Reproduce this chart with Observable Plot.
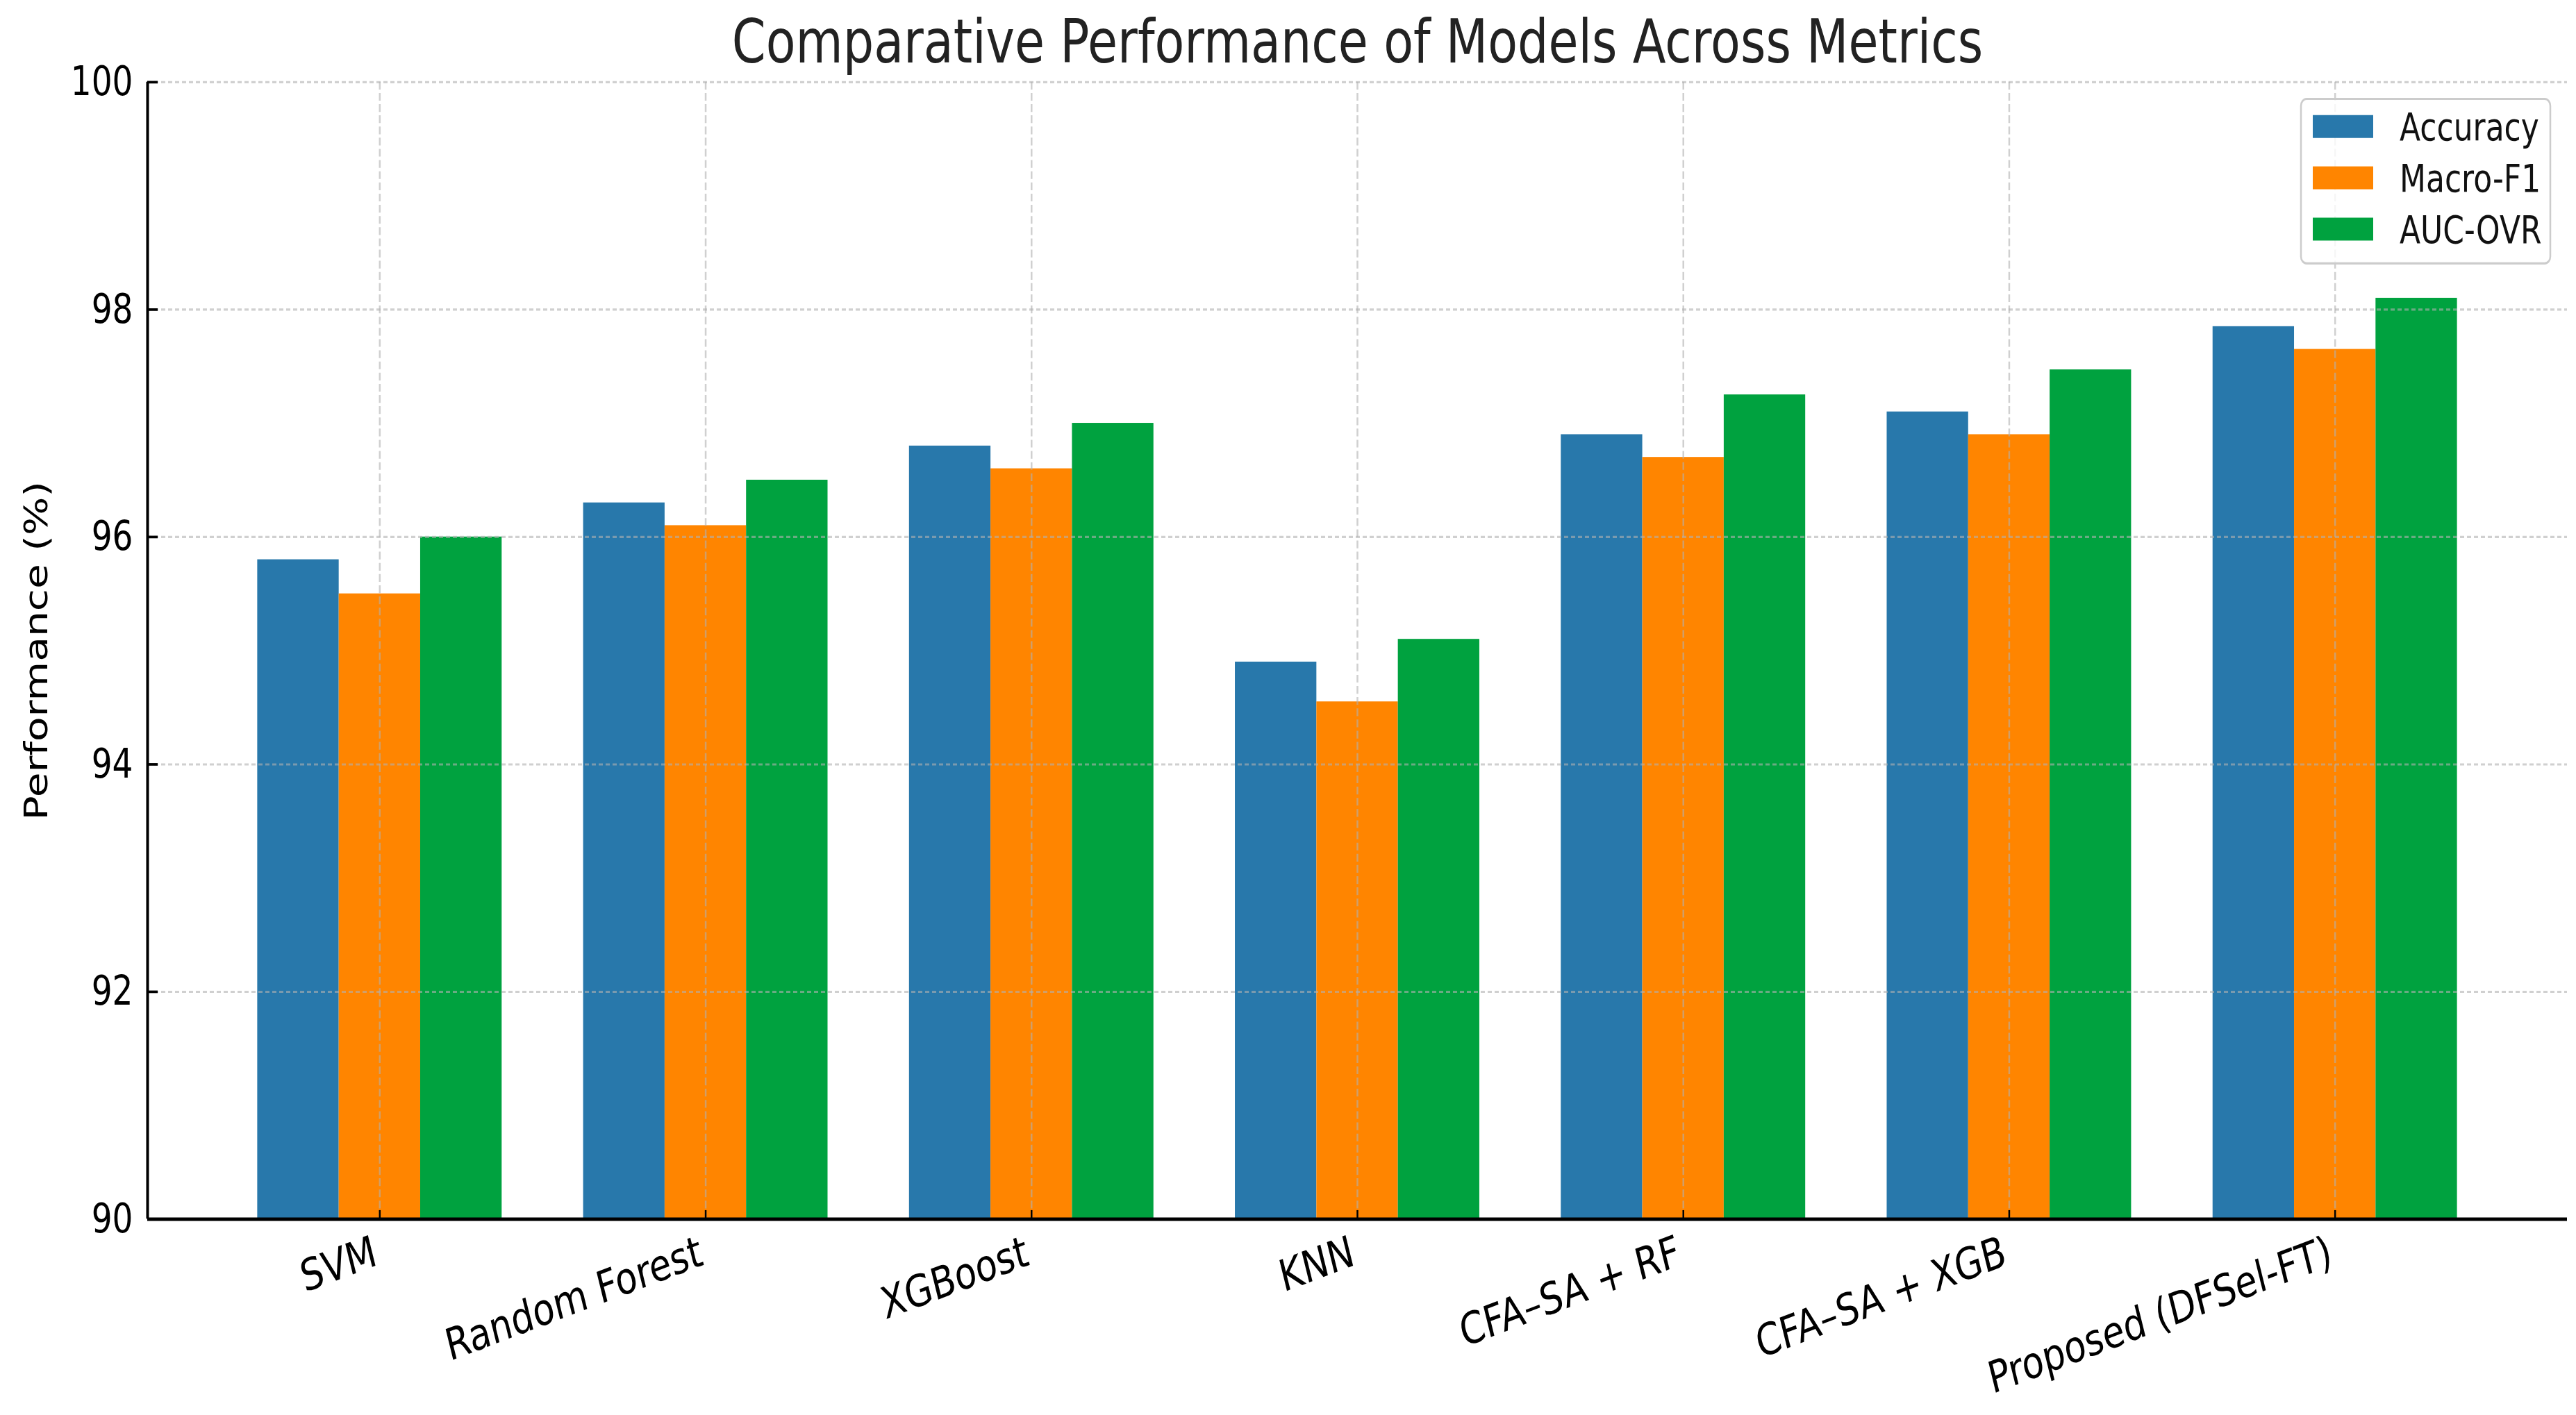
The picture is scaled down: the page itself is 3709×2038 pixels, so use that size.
<!DOCTYPE html>
<html><head><meta charset="utf-8">
<script src="https://cdn.jsdelivr.net/npm/d3@7"></script>
<script src="https://cdn.jsdelivr.net/npm/@observablehq/plot@0.6"></script>
<style>html,body{margin:0;padding:0;background:#fff;} #chart svg{display:block;}</style>
</head><body><div id="chart"></div>
<script>
const models = ["SVM", "Random Forest", "XGBoost", "KNN", "CFA\u2013SA + RF", "CFA\u2013SA + XGB", "Proposed (DFSel-FT)"];
const metrics = ["Accuracy", "Macro-F1", "AUC-OVR"];
const accuracy = [95.8, 96.3, 96.8, 94.9, 96.9, 97.1, 97.85];
const macroF1 = [95.5, 96.1, 96.6, 94.55, 96.7, 96.9, 97.65];
const aucOvr = [96.0, 96.5, 97.0, 95.1, 97.25, 97.47, 98.1];
const yTicks = [90, 92, 94, 96, 98, 100];
const colors = ["#2878ab", "#ff8500", "#00a23f"];
const title = "Comparative Performance of Models Across Metrics";
const yLabel = "Performance (%)";

const W = 3709, H_OUT = 2038, H = 1644; // internal height, stretched vertically to output
const mL = 212, mR = 13, mT = 95, mB = 228;
const barW = 0.25;
const xDomain = [-0.7125, 6.7125];
const series = [accuracy, macroF1, aucOvr];
const rows = [];
models.forEach((m, i) => metrics.forEach((k, j) => rows.push({model: m, i, metric: k, j, value: series[j][i]})));
const idx = models.map((m, i) => i);
const plotW = W - mL - mR, plotH = H - mT - mB;

const chart = Plot.plot({
  width: W, height: H, marginLeft: mL, marginRight: mR, marginTop: mT, marginBottom: mB,
  style: {fontFamily: "DejaVu Sans", fontSize: "47px", color: "#000", background: "#fff", overflow: "visible"},
  x: {type: "linear", domain: xDomain, axis: null},
  y: {domain: [90, 100], ticks: yTicks, tickSize: 0, tickPadding: 21, label: null, tickFormat: d => String(d)},
  color: {domain: metrics, range: colors},
  marks: [
    Plot.rectY(rows, {
      x1: d => d.i + (d.j - 1) * barW - barW / 2,
      x2: d => d.i + (d.j - 1) * barW + barW / 2,
      y1: 90, y2: "value", fill: "metric"
    }),
    Plot.ruleY(yTicks, {stroke: "#b0b0b0", strokeOpacity: 0.6, strokeWidth: 2.5, strokeDasharray: "6,4"}),
    Plot.ruleX(idx, {stroke: "#b0b0b0", strokeOpacity: 0.6, strokeWidth: 2.5, strokeDasharray: "9,4"}),
    Plot.tickY(yTicks, {stroke: "#000", strokeWidth: 3, insetRight: plotW - 15}),
    Plot.tickX(idx, {stroke: "#000", strokeWidth: 2.5, insetTop: plotH - 10}),
    Plot.ruleX([xDomain[0]], {stroke: "#000", strokeWidth: 4}),
    Plot.ruleY([90], {stroke: "#000", strokeWidth: 4}),
    Plot.text(models, {x: (d, i) => i, frameAnchor: "bottom", textAnchor: "end", lineAnchor: "top", rotate: -17, dy: 18, dx: -12, fontSize: 51, fill: "#000"}),
    Plot.text([yLabel], {frameAnchor: "left", textAnchor: "middle", lineAnchor: "middle", rotate: -90, dx: -160, fontSize: 47, fill: "#000"}),
    Plot.text([title], {frameAnchor: "top", textAnchor: "middle", lineAnchor: "middle", dy: -45, fontSize: 70, fill: "#222"})
  ]
});

// legend (upper right, inside frame)
const svg = d3.select(chart);
const lg = svg.append("g").attr("font-family", "DejaVu Sans").attr("text-anchor", "start");
const bw = 359, bh = 191;
const bx = W - mR - 24 - bw, by = mT + 20;
lg.append("rect").attr("x", bx).attr("y", by).attr("width", bw).attr("height", bh).attr("rx", 8)
  .attr("fill", "#fff").attr("fill-opacity", 0.8).attr("stroke", "#cccccc").attr("stroke-width", 2.5);
metrics.forEach((k, j) => {
  const cy = by + 32 + j * 59.6;
  lg.append("rect").attr("x", bx + 17).attr("y", cy - 13.3).attr("width", 87).attr("height", 26.6).attr("fill", colors[j]);
  lg.append("text").attr("x", bx + 142).attr("y", cy).attr("dy", "0.36em").attr("font-size", 44)
    .attr("text-anchor", "start").attr("fill", "#111").text(k);
});

// stretch vertically like the reference
chart.setAttribute("width", W);
chart.setAttribute("height", H_OUT);
chart.setAttribute("viewBox", `0 0 ${W} ${H}`);
chart.setAttribute("preserveAspectRatio", "none");
chart.style.width = W + "px";
chart.style.height = H_OUT + "px";
chart.style.maxWidth = "none";
document.getElementById("chart").appendChild(chart);
</script>
</body></html>
